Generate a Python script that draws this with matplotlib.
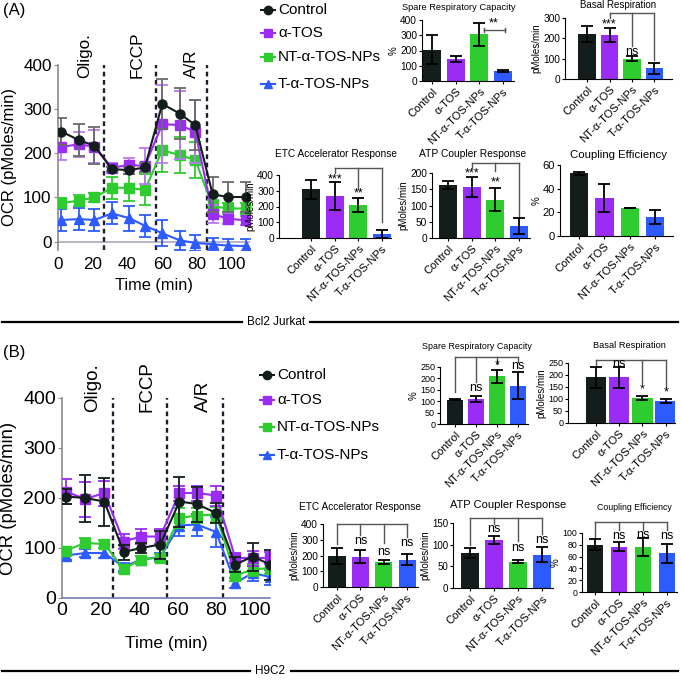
import matplotlib
matplotlib.use("Agg")
import matplotlib.pyplot as plt
from matplotlib.lines import Line2D
import numpy as np

plt.rcParams['font.family'] = ['Liberation Sans', 'DejaVu Sans']

W, H = 681, 684
fig = plt.figure(figsize=(W / 100, H / 100), dpi=100)

groups = ['Control', 'α-TOS', 'NT-α-TOS-NPs', 'T-α-TOS-NPs']
colors = ['#131d1c', '#9a2cf5', '#2ecc2e', '#2d5bff']
markers = ['o', 's', 's', '^']

# ---------------- Panel A time course (Bcl2 Jurkat) ----------------
a_time = [2, 12, 21, 31, 41, 50, 60, 70, 79, 89, 98, 108]
a_ctrl = [249, 230, 217, 164, 162, 168, 312, 290, 264, 107, 101, 101]
a_ctrl_err = [30, 37, 42, 5, 8, 10, 56, 57, 56, 40, 35, 35]
a_atos = [215, 220, 215, 167, 174, 171, 266, 264, 249, 62, 52, 48]
a_atos_err = [30, 28, 38, 12, 15, 40, 88, 78, 72, 20, 12, 10]
a_nt = [87, 93, 100, 122, 122, 117, 207, 196, 185, 80, 75, 75]
a_nt_err = [12, 12, 10, 25, 30, 35, 50, 40, 40, 15, 12, 12]
a_t = [49, 51, 49, 64, 53, 36, 19, 3, -3, -6, -9, -10]
a_t_err = [25, 25, 25, 25, 28, 25, 30, 22, 18, 15, 15, 15]

# ---------------- Panel B time course (H9C2) ----------------
b_time = [2, 12, 22, 32, 41, 51, 61, 70, 80, 90, 99, 108]
b_ctrl = [203, 200, 193, 92, 100, 107, 193, 188, 170, 67, 83, 67]
b_ctrl_err = [15, 47, 48, 15, 10, 28, 50, 35, 20, 15, 28, 30]
b_atos = [213, 198, 210, 113, 123, 123, 210, 210, 205, 80, 80, 80]
b_atos_err = [25, 35, 25, 15, 15, 15, 15, 15, 20, 10, 15, 12]
b_nt = [95, 110, 108, 58, 77, 81, 160, 165, 167, 45, 57, 60]
b_nt_err = [8, 10, 8, 8, 8, 8, 20, 15, 15, 10, 12, 12]
b_t = [85, 90, 90, 62, 77, 82, 145, 147, 132, 30, 50, 42]
b_t_err = [8, 8, 10, 8, 8, 8, 20, 22, 30, 10, 15, 15]

# ---------------- Bar summaries ----------------
a_src = [205, 145, 305, 65];  a_src_err = [95, 20, 75, 8]
a_bas = [220, 215, 100, 52];  a_bas_err = [40, 35, 12, 28]
a_etc = [310, 268, 210, 25];  a_etc_err = [60, 88, 45, 25]
a_atp = [163, 157, 118, 38];  a_atp_err = [12, 30, 35, 25]
a_ce = [53, 32, 24, 16];      a_ce_err = [1.5, 12, 0, 6]

b_src = [107, 110, 210, 168]; b_src_err = [3, 15, 28, 60]
b_bas = [190, 190, 105, 93];  b_bas_err = [45, 43, 8, 8]
b_etc = [198, 193, 158, 173]; b_etc_err = [50, 43, 15, 35]
b_atp = [81, 111, 61, 77];    b_atp_err = [12, 10, 3, 17]
b_ce = [80, 77, 76, 66];      b_ce_err = [9, 8, 15, 16]


def px_ax(l, t, r, b):
    return fig.add_axes([l / W, 1 - b / H, (r - l) / W, (b - t) / H])


def line_panel(rect, time, series, errs, ecols, ylim, xmax, inj, labels, lab_x, lab_y,
               tick_fs, ylab_fs, xlab_fs, inj_fs, ylab_x, xlab_y, zero_line):
    ax = px_ax(*rect)
    for i in range(4):
        ax.errorbar(time, series[i], yerr=errs[i], color=colors[i], marker=markers[i],
                    markersize=6.5 if markers[i] != '^' else 7.5, lw=1.5, capsize=4,
                    elinewidth=1.3, capthick=1.3, ecolor=ecols[i], zorder=3 + (3 - i))
    ax.set_ylim(*ylim)
    ax.set_xlim(0, xmax)
    ax.set_yticks([0, 100, 200, 300, 400])
    ax.set_xticks([0, 20, 40, 60, 80, 100])
    for x in inj:
        ax.plot([x, x], [ylim[0], 400], ls=(0, (2, 1.5)), color='#1d1d30', lw=1.7, zorder=2)
    for txt, x in zip(labels, lab_x):
        ax.text(x, lab_y, txt, rotation=90, ha='center', va='bottom', fontsize=inj_fs,
                clip_on=False)
    for s in ['top', 'right']:
        ax.spines[s].set_visible(False)
    ax.spines['left'].set_color('#8a8a8a')
    ax.spines['left'].set_linewidth(1.2)
    ax.spines['left'].set_bounds(ylim[0], 400)
    if zero_line:
        ax.spines['bottom'].set_visible(False)
        ax.axhline(0, color='#b0b0c4', lw=1.3, zorder=1)
        ax.tick_params(axis='x', length=0, pad=5)
    else:
        ax.spines['bottom'].set_color('#7a7ab0')
        ax.spines['bottom'].set_linewidth(1.2)
        ax.tick_params(axis='x', length=0, pad=3)
    ax.tick_params(axis='y', length=3, color='#8a8a8a', pad=1.5)
    ax.tick_params(labelsize=tick_fs)
    ax.set_ylabel('OCR (pMoles/min)', fontsize=ylab_fs)
    ax.yaxis.set_label_coords(ylab_x, 0.5)
    ax.set_xlabel('Time (min)', fontsize=xlab_fs)
    ax.xaxis.set_label_coords(0.5, xlab_y)
    return ax


line_panel((58, 65, 250, 250), a_time, [a_ctrl, a_atos, a_nt, a_t],
           [a_ctrl_err, a_atos_err, a_nt_err, a_t_err],
           ['#6a6a6a', '#b77cf2', '#2ecc2e', '#2d5bff'], (-19, 400), 110.5,
           [26.6, 56.3, 85.5], ['Oligo.', 'FCCP', 'A/R'], [15.5, 45.5, 77], 370,
           12.3, 12, 11.8, 12.3, -0.215, -0.15, True)

line_panel((62, 398, 270, 598), b_time, [b_ctrl, b_atos, b_nt, b_t],
           [b_ctrl_err, b_atos_err, b_nt_err, b_t_err], colors, (0, 400), 108,
           [26.5, 54.5, 83.5], ['Oligo.', 'FCCP', 'A/R'], [16, 44, 73.5], 373,
           14, 13.3, 12.5, 13.5, -0.215, -0.19, False)


def legend(x, ys, fs):
    for i, y in enumerate(ys):
        yf = 1 - y / H
        fig.add_artist(Line2D([(x - 7) / W, x / W, (x + 7) / W], [yf, yf, yf], color=colors[i],
                              marker=markers[i], markevery=[1], markersize=6, lw=1.5,
                              transform=fig.transFigure))
        fig.text((x + 10) / W, yf, groups[i], fontsize=fs, va='center', ha='left')


legend(268, [10, 33, 57, 84], 11)
legend(267, [375, 400, 427, 455], 11)


def bar_panel(rect, vals, errs, ylim, yticks, ylabel, title, title_xy, tfs=7, xlim=(-0.55, 3.5),
              width=0.76, yfs=7.3, stars=(), brackets=(), sfs=9):
    ax = px_ax(*rect)
    x = np.arange(4)
    ax.bar(x, vals, width=width, color=colors, zorder=2)
    ax.errorbar(x, vals, yerr=errs, fmt='none', ecolor='black', elinewidth=1.3,
                capsize=4, capthick=1.3, zorder=3)
    ax.set_ylim(*ylim)
    ax.set_xlim(*xlim)
    ax.set_yticks(yticks)
    ax.set_xticks(x)
    ax.set_xticklabels(groups, rotation=45, ha='right', rotation_mode='anchor', fontsize=8)
    ax.tick_params(axis='y', labelsize=yfs, length=2.5, pad=1)
    ax.tick_params(axis='x', length=2.5, pad=1.5)
    for s in ['top', 'right']:
        ax.spines[s].set_visible(False)
    ax.set_ylabel(ylabel, fontsize=7, labelpad=1)
    fig.text(title_xy[0] / W, 1 - title_xy[1] / H, title, fontsize=tfs, ha='center', va='center')
    for (xi, yi, txt) in stars:
        ax.text(xi, yi, txt, ha='center', va='center', fontsize=sfs, clip_on=False)
    for (y, x0, x1, drops) in brackets:
        ax.plot([x0, x1], [y, y], color='#555555', lw=1, clip_on=False)
        for (xd, yd) in drops:
            ax.plot([xd, xd], [y, yd], color='#555555', lw=1, clip_on=False)
    return ax


# ---- A bars ----
bar_panel((422, 20, 514, 81), a_src, a_src_err, (0, 400), [0, 100, 200, 300, 400], '%',
          'Spare Respiratory Capacity', (459, 7), tfs=6.7, xlim=(-0.42, 3.46),
          stars=[(2.6, 380, '**')],
          brackets=[(334, 2.2, 3.08, [(2.2, 319), (2.2, 349), (3.08, 319), (3.08, 349)])])
bar_panel((565, 18, 672, 79), a_bas, a_bas_err, (0, 300), [0, 100, 200, 300], 'pMoles/min',
          'Basal Respiration', (618, 5), tfs=7, xlim=(-0.98, 3.78),
          stars=[(1, 270, '***'), (2, 135, 'ns')],
          brackets=[(325, 1, 3, [(1, 300), (2, 160), (3, 95)])])
bar_panel((279, 175, 391, 238), a_etc, a_etc_err, (0, 400), [0, 100, 200, 300, 400], 'pMoles/min',
          'ETC Accelerator Response', (336, 154), tfs=7.3, xlim=(-1.35, 3.38),
          stars=[(1, 375, '***'), (2, 285, '**')],
          brackets=[(445, 1, 3, [(1, 410), (2, 310), (3, 100)])])
bar_panel((432, 173, 530, 238), a_atp, a_atp_err, (0, 200), [0, 50, 100, 150, 200], 'pMoles/min',
          'ATP Coupler Response', (473, 154), tfs=7.4, xlim=(-0.68, 3.46),
          stars=[(1, 200, '***'), (2, 172, '**')],
          brackets=[(231, 1, 3, [(1, 215), (2, 205), (3, 65)])])
bar_panel((560, 165, 673, 236), a_ce, a_ce_err, (0, 60), [0, 20, 40, 60], '%',
          'Coupling Efficiency', (619, 155), tfs=8.2, xlim=(-0.75, 3.7), width=0.72, yfs=8)

# ---- B bars ----
bar_panel((440, 367, 528, 424), b_src, b_src_err, (0, 250), [0, 50, 100, 150, 200, 250], '%',
          'Spare Respiratory Capacity', (477, 346), tfs=6.4, xlim=(-0.71, 3.48), width=0.8,
          yfs=6.5,
          stars=[(1, 160, 'ns'), (2, 255, '*'), (3, 255, 'ns')],
          brackets=[(292, 0, 3, [(0, 140), (1, 185), (2, 265), (3, 270)])])
bar_panel((568, 363, 675, 423), b_bas, b_bas_err, (0, 250), [0, 50, 100, 150, 200, 250],
          'pMoles/min', 'Basal Respiration', (629, 345), tfs=6.7, xlim=(-1.2, 3.4),
          width=0.88, yfs=6.5,
          stars=[(1, 245, 'ns'), (2, 140, '*'), (3, 128, '*')],
          brackets=[(262, 0, 3, [(0, 240), (2, 165), (3, 150)])])
bar_panel((323, 524, 418, 587), b_etc, b_etc_err, (0, 400), [0, 100, 200, 300, 400],
          'pMoles/min', 'ETC Accelerator Response', (360, 507), tfs=7.3, xlim=(-0.6, 3.47),
          width=0.73,
          stars=[(1, 290, 'ns'), (2, 225, 'ns'), (3, 280, 'ns')],
          brackets=[(400, 0, 3, [(0, 270), (1, 330), (2, 280), (3, 320)])])
bar_panel((453, 523, 553, 588), b_atp, b_atp_err, (0, 150), [0, 50, 100, 150],
          'pMoles/min', 'ATP Coupler Response', (508, 505), tfs=8, xlim=(-0.7, 3.45),
          width=0.72, yfs=7,
          stars=[(1, 136, 'ns'), (2, 92, 'ns'), (3, 110, 'ns')],
          brackets=[(162, 0, 3, [(0, 100), (1, 148), (2, 108), (3, 125)])])
bar_panel((582, 533, 677, 592), b_ce, b_ce_err, (0, 100), [0, 20, 40, 60, 80, 100], '%',
          'Coupling Efficiency', (634, 507), tfs=6.3, xlim=(-0.54, 3.42), width=0.65, yfs=6.3,
          stars=[(1, 95, 'ns'), (2, 96, 'ns'), (3, 95, 'ns')],
          brackets=[(118, 0, 3, [(0, 92), (1, 105), (2, 105), (3, 105)])])

# ---- panel letters and separators ----
fig.text(3 / W, 1 - 11 / H, '(A)', fontsize=12, va='center', ha='left')
fig.text(3 / W, 1 - 352 / H, '(B)', fontsize=12, va='center', ha='left')


def separator(y, label, xc, x_left_end, x_right_start):
    yf = 1 - y / H
    fig.add_artist(Line2D([2 / W, x_left_end / W], [yf, yf], color='black', lw=1.6,
                          transform=fig.transFigure))
    fig.add_artist(Line2D([x_right_start / W, 678 / W], [yf, yf], color='black', lw=1.6,
                          transform=fig.transFigure))
    fig.text(xc / W, yf, label, fontsize=8.5, ha='center', va='center')


separator(322, 'Bcl2 Jurkat', 276, 242, 310)
separator(671, 'H9C2', 270.5, 250, 291)

fig.savefig('out.png', dpi=100)
